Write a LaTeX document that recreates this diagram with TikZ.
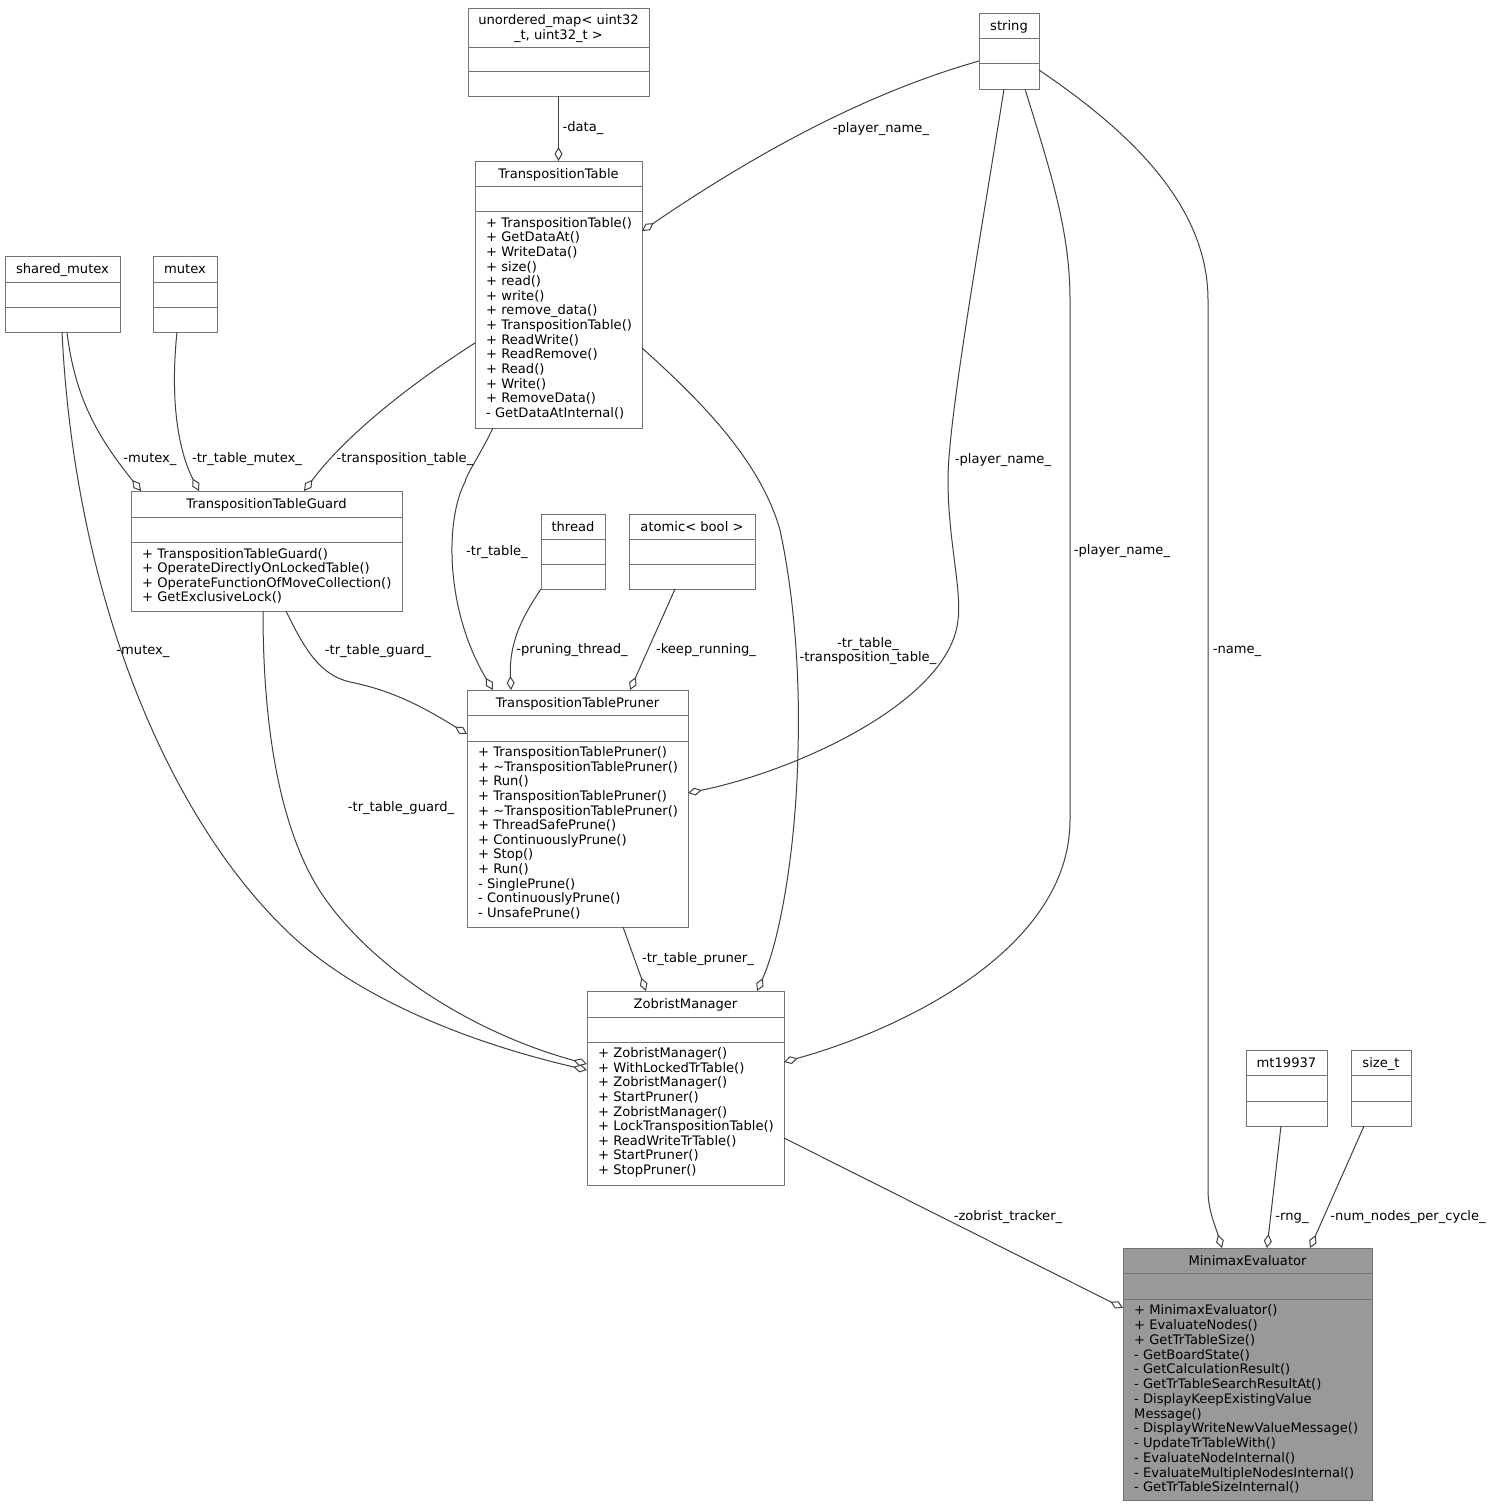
\documentclass[tikz,border=0pt]{standalone}
\usepackage{fontspec}
\setmainfont{DejaVu Sans}
\usetikzlibrary{arrows.meta}
\definecolor{boxgray}{HTML}{737373}
\definecolor{edgegray}{HTML}{404040}
\definecolor{rootfill}{HTML}{999999}

\tikzset{
  cls/.style={draw=boxgray, line width=1pt, fill=white, inner sep=0pt, outer sep=0pt},
  rootcls/.style={cls, fill=rootfill},
  sepline/.style={draw=boxgray, line width=1pt},
  txt/.style={font=\fontsize{13.1}{14.6}\selectfont, inner sep=0pt, text height=9.5pt, text depth=0pt},
  mem/.style={txt, anchor=west},
  lbl/.style={txt},
  agg/.style={draw=edgegray, line width=1pt, -{Diamond[open, length=14pt, width=8pt]}},
}

% class box: name, left, top, right, bottom, first separator, second separator, style
\newcommand\clsbox[8]{%
  \node[#8, minimum width={#4-#2}, minimum height={#5-#3}, anchor=north west] (#1) at (#2,#3) {};
  \draw[sepline] (#2,#6) -- (#4,#6) (#2,#7) -- (#4,#7);
}
% member lines: name prefix, x, first line centre, step, items
\newcommand\memberlist[5]{%
  \foreach \m [count=\k from 0] in {#5} {\node[mem] (#1-\k) at (#2,{#3+\k*#4}) {\m};}
}

\begin{document}
\begin{tikzpicture}[x=1pt, y=-1pt]
\fill[white] (0,0) rectangle (1493,1507);
\useasboundingbox (0,0) rectangle (1493,1507);

% ---------- classes ----------
\clsbox{umap}{468}{8}{649}{96}{47}{71}{cls}
\node[txt] (umap-t1) at (558.5,20) {unordered\_map< uint32};
\node[txt] (umap-t2) at (558.5,34.5) {\_t, uint32\_t >};

\clsbox{str}{979}{13}{1039}{89}{38}{63}{cls}
\node[txt] (str-t) at (1009,25.5) {string};

\clsbox{tt}{475}{161}{642}{428}{186}{211}{cls}
\node[txt] (tt-t) at (558.5,173.5) {TranspositionTable};
\memberlist{tt}{486}{222.3}{14.65}{%
  + TranspositionTable(), + GetDataAt(), + WriteData(), + size(), + read(), + write(),
  + remove\_data(), + TranspositionTable(), + ReadWrite(), + ReadRemove(), + Read(),
  + Write(), + RemoveData(), - GetDataAtInternal()}

\clsbox{smutex}{5}{256}{120}{332}{282}{307}{cls}
\node[txt] (smutex-t) at (62.5,269) {shared\_mutex};

\clsbox{mutex}{153}{256}{217}{332}{282}{307}{cls}
\node[txt] (mutex-t) at (185,269) {mutex};

\clsbox{guard}{131}{491}{402}{611}{517}{542}{cls}
\node[txt] (guard-t) at (266.5,504) {TranspositionTableGuard};
\memberlist{guard}{142}{553.3}{14.6}{%
  + TranspositionTableGuard(), + OperateDirectlyOnLockedTable(),
  + OperateFunctionOfMoveCollection(), + GetExclusiveLock()}

\clsbox{thread}{541}{514}{605}{589}{539}{564}{cls}
\node[txt] (thread-t) at (573,526.5) {thread};

\clsbox{atomic}{629}{514}{755}{589}{539}{564}{cls}
\node[txt] (atomic-t) at (692,526.5) {atomic< bool >};

\clsbox{pruner}{467}{690}{688}{927}{715}{741}{cls}
\node[txt] (pruner-t) at (577.5,702.5) {TranspositionTablePruner};
\memberlist{pruner}{478}{752}{14.6}{%
  + TranspositionTablePruner(), + \textasciitilde TranspositionTablePruner(), + Run(),
  + TranspositionTablePruner(), + \textasciitilde TranspositionTablePruner(),
  + ThreadSafePrune(), + ContinuouslyPrune(), + Stop(), + Run(), - SinglePrune(),
  - ContinuouslyPrune(), - UnsafePrune()}

\clsbox{zm}{587}{991}{784}{1185}{1017}{1042}{cls}
\node[txt] (zm-t) at (685.5,1003.5) {ZobristManager};
\memberlist{zm}{598}{1053}{14.6}{%
  + ZobristManager(), + WithLockedTrTable(), + ZobristManager(), + StartPruner(),
  + ZobristManager(), + LockTranspositionTable(), + ReadWriteTrTable(),
  + StartPruner(), + StopPruner()}

\clsbox{mt}{1246}{1050}{1327}{1126}{1075}{1101}{cls}
\node[txt] (mt-t) at (1286.5,1062.5) {mt19937};

\clsbox{sizet}{1351}{1050}{1411}{1126}{1075}{1101}{cls}
\node[txt] (sizet-t) at (1381,1062.5) {size\_t};

\clsbox{minimax}{1123}{1248}{1372}{1500}{1273}{1299}{rootcls}
\node[txt] (minimax-t) at (1247.5,1260.5) {MinimaxEvaluator};
\memberlist{minimax}{1134}{1310}{14.75}{%
  + MinimaxEvaluator(), + EvaluateNodes(), + GetTrTableSize(), - GetBoardState(),
  - GetCalculationResult(), - GetTrTableSearchResultAt(), - DisplayKeepExistingValue,
  Message(), - DisplayWriteNewValueMessage(), - UpdateTrTableWith(),
  - EvaluateNodeInternal(), - EvaluateMultipleNodesInternal(), - GetTrTableSizeInternal()}

% ---------- aggregation edges ----------
\draw[agg] (umap.south) -- (tt.north);
\draw[agg] (str.west |- 0,61) .. controls (895,85) and (790,130) .. (tt.east |- 0,231);
\draw[agg] (smutex.south -| 67,0) .. controls (75,400) and (100,440) .. (guard.north -| 141,0);
\draw[agg] (mutex.south -| 177,0) .. controls (170,400) and (178,450) .. (guard.north -| 199,0);
\draw[agg] (tt.west |- 0,343) .. controls (420,378) and (350,430) .. (guard.north -| 304,0);
\draw[agg] (tt.south -| 493,0) .. controls (480,455) and (466,475) .. (465,482)
  .. controls (445,520) and (445,610) .. (pruner.north -| 493,0);
\draw[agg] (thread.south west) .. controls (520,620) and (509,645) .. (pruner.north -| 511,0);
\draw[agg] (atomic.south -| 675,0) -- (pruner.north -| 630,0);
\draw[agg] (guard.south -| 286,0) .. controls (305,650) and (320,675) .. (350,682)
  .. controls (390,690) and (420,705) .. (pruner.west |- 0,734);
\draw[agg] (str.south -| 1004,0) .. controls (980,240) and (948,420) .. (948,480)
  .. controls (948,540) and (962,590) .. (958,620)
  .. controls (950,700) and (800,770) .. (pruner.east |- 0,793);
\draw[agg] (tt.east |- 0,348) .. controls (700,400) and (760,460) .. (780,530)
  .. controls (795,600) and (800,680) .. (798,750)
  .. controls (796,850) and (780,940) .. (zm.north -| 757,0);
\draw[agg] (pruner.south -| 623,0) -- (zm.north -| 646,0);
\draw[agg] (smutex.south -| 62,0) .. controls (75,600) and (170,820) .. (289,933)
  .. controls (370,1010) and (500,1050) .. (zm.west |- 0,1070);
\draw[agg] (guard.south -| 263,0) .. controls (263,760) and (290,850) .. (326,900)
  .. controls (380,975) and (480,1035) .. (zm.west |- 0,1064);
\draw[agg] (str.south -| 1025,0) .. controls (1050,170) and (1070,230) .. (1070,300)
  -- (1070,820) .. controls (1070,950) and (900,1030) .. (zm.east |- 0,1062);
\draw[agg] (str.east |- 0,70) .. controls (1120,125) and (1208,200) .. (1208,300)
  -- (1208,1190) .. controls (1208,1210) and (1215,1225) .. (minimax.north -| 1222,0);
\draw[agg] (zm.east |- 0,1138) -- (minimax.west |- 0,1308);
\draw[agg] (mt.south -| 1281,0) -- (minimax.north -| 1267,0);
\draw[agg] (sizet.south -| 1364,0) -- (minimax.north -| 1310,0);

% ---------- edge labels ----------
\node[lbl] (l-data) at (583,127) {-data\_};
\node[lbl] (l-pn1) at (881,128) {-player\_name\_};
\node[lbl] (l-mx1) at (150,458) {-mutex\_};
\node[lbl] (l-trm) at (247,458) {-tr\_table\_mutex\_};
\node[lbl] (l-tpt) at (405,458) {-transposition\_table\_};
\node[lbl] (l-trt) at (497,551) {-tr\_table\_};
\node[lbl] (l-pth) at (572,649) {-pruning\_thread\_};
\node[lbl] (l-kr) at (706,649) {-keep\_running\_};
\node[lbl] (l-trg1) at (378,650) {-tr\_table\_guard\_};
\node[lbl] (l-pn2) at (1003,459) {-player\_name\_};
\node[lbl] (l-two1) at (868,643) {-tr\_table\_};
\node[lbl] (l-two2) at (868,657) {-transposition\_table\_};
\node[lbl] (l-trp) at (698,958) {-tr\_table\_pruner\_};
\node[lbl] (l-mx2) at (143,650) {-mutex\_};
\node[lbl] (l-trg2) at (401,807) {-tr\_table\_guard\_};
\node[lbl] (l-pn3) at (1122,550) {-player\_name\_};
\node[lbl] (l-name) at (1237,649) {-name\_};
\node[lbl] (l-zt) at (1008,1216) {-zobrist\_tracker\_};
\node[lbl] (l-rng) at (1292,1216) {-rng\_};
\node[lbl] (l-nn) at (1408,1216) {-num\_nodes\_per\_cycle\_};
\end{tikzpicture}
\end{document}
